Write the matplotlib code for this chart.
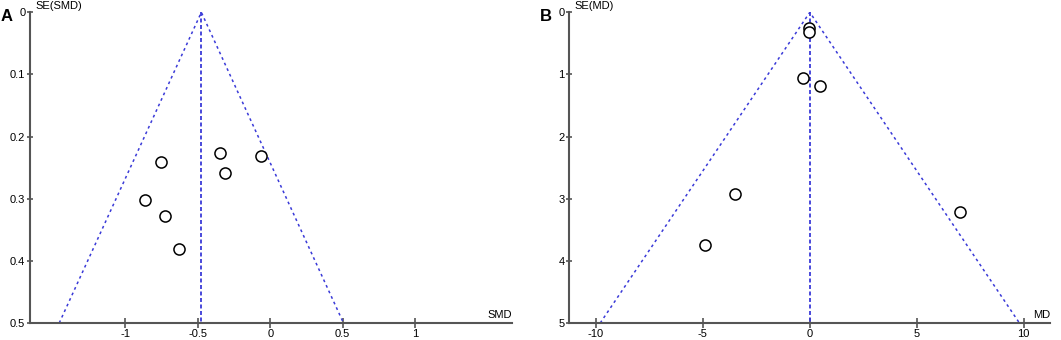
import numpy as np
import matplotlib.pyplot as plt

plt.rcParams['font.family'] = ['Liberation Sans', 'DejaVu Sans']

# --- Datos ---
# Panel A: SMD vs SE(SMD)
smd = [-0.754, -0.347, -0.066, -0.312, -0.862, -0.728, -0.632]
se_smd = [0.241, 0.226, 0.232, 0.259, 0.302, 0.328, 0.381]
pooled_smd = -0.475

# Panel B: MD vs SE(MD)
md = [-0.03, -0.03, -0.31, 0.47, -3.48, -4.91, 7.0]
se_md = [0.258, 0.322, 1.053, 1.18, 2.92, 3.74, 3.21]
pooled_md = 0.0

panels = [
    dict(tag='A', x=smd, y=se_smd, center=pooled_smd, ymax=0.5,
         xlim=(-1.66, 1.665), xticks=[-1, -0.5, 0, 0.5, 1],
         xticklabels=['-1', '-0.5', '0', '0.5', '1'],
         yticks=[0, 0.1, 0.2, 0.3, 0.4, 0.5],
         yticklabels=['0', '0.1', '0.2', '0.3', '0.4', '0.5'],
         ylabel='SE(SMD)', xlabel='SMD', rect=[29.5, 511.7]),
    dict(tag='B', x=md, y=se_md, center=pooled_md, ymax=5,
         xlim=(-11.26, 11.23), xticks=[-10, -5, 0, 5, 10],
         xticklabels=['-10', '-5', '0', '5', '10'],
         yticks=[0, 1, 2, 3, 4, 5],
         yticklabels=['0', '1', '2', '3', '4', '5'],
         ylabel='SE(MD)', xlabel='MD', rect=[569, 1050]),
]

W, H = 1061, 340
fig = plt.figure(figsize=(W / 100, H / 100), dpi=100)

AXIS_COLOR = '#555555'
LINE_COLOR = '#3a3ad8'
top_px, bot_px = 12.3, 323

for p in panels:
    x0, x1 = p['rect']
    ax = fig.add_axes([x0 / W, 1 - bot_px / H, (x1 - x0) / W, (bot_px - top_px) / H])

    # Embudo (límites de confianza 95%)
    c, ym = p['center'], p['ymax']
    ax.plot([c - 1.96 * ym, c, c + 1.96 * ym], [ym, 0, ym],
            color=LINE_COLOR, lw=1.1, ls=(0, (1.8, 2.2)))
    ax.plot([c, c], [0, ym], color=LINE_COLOR, lw=1.3, ls=(0, (2.2, 1.4)))

    # Estudios
    ax.plot(p['x'], p['y'], 'o', ms=8, mfc='white', mec='black', mew=1.1,
            ls='none', zorder=3)

    ax.set_xlim(*p['xlim'])
    ax.set_ylim(ym, 0)
    ax.set_xticks(p['xticks'])
    ax.set_xticklabels(p['xticklabels'])
    ax.set_yticks(p['yticks'])
    ax.set_yticklabels(p['yticklabels'])

    for s in ['top', 'right']:
        ax.spines[s].set_visible(False)
    for s in ['left', 'bottom']:
        ax.spines[s].set_color(AXIS_COLOR)
        ax.spines[s].set_linewidth(1.5)

    ax.tick_params(axis='x', direction='inout', length=7, width=1.2,
                   colors=AXIS_COLOR, labelcolor='black', labelsize=8, pad=1)
    ax.tick_params(axis='y', direction='inout', length=5, width=1.2,
                   colors=AXIS_COLOR, labelcolor='black', labelsize=8, pad=0.5)

    ax.annotate(p['ylabel'], xy=(0, 1), xycoords='axes fraction',
                xytext=(4, 1), textcoords='offset points',
                ha='left', va='bottom', fontsize=8)
    ax.annotate(p['xlabel'], xy=(1, 0), xycoords='axes fraction',
                xytext=(0, 2), textcoords='offset points',
                ha='right', va='bottom', fontsize=8)
    ax.annotate(p['tag'], xy=(0, 1), xycoords='axes fraction',
                xytext=(-29, -4), textcoords='offset pixels',
                ha='left', va='center', fontsize=12, fontweight='bold')

fig.savefig('out.png', dpi=100)
